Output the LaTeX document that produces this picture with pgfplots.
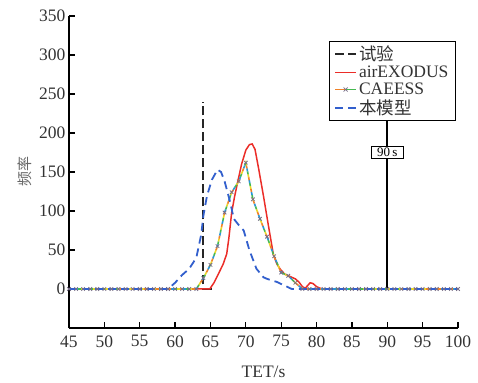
\documentclass[border=0pt]{standalone}
\usepackage{fontspec}
\setmainfont{Liberation Serif}
\newfontfamily\cjk{Noto Sans CJK SC}
\usepackage{pgfplots}
\usepackage{pgfplotstable}
\pgfplotsset{compat=1.18}
\definecolor{cred}{RGB}{235,45,40}
\definecolor{cblue}{RGB}{50,95,205}
\definecolor{corange}{RGB}{240,130,40}
\definecolor{cyellow}{RGB}{235,215,40}
\definecolor{cgreen}{RGB}{70,185,80}
\definecolor{ccyan}{RGB}{40,150,215}
\definecolor{cgray}{RGB}{120,110,135}
\newcommand{\fs}{\fontsize{17.5}{19}\selectfont}

\pgfplotstableread{
x y
45 0
46 0
47 0
48 0
49 0
50 0
51 0
52 0
53 0
54 0
55 0
56 0
57 0
58 0
59 0
60 0
61 0
62 0
63 0
64 14
65 31
66 55
67 98
68 124
69 138
70 162
71 115
72 90
73 67
74 42
75 21
76 17
77 8
78 0
79 0
80 0
81 0
82 0
83 0
84 0
85 0
86 0
87 0
88 0
89 0
90 0
91 0
92 0
93 0
94 0
95 0
96 0
97 0
98 0
99 0
100 0
}\caeess

\pgfplotstableread{
x y
45 0
64.9 0
65.5 8
66 17
66.8 32
67.3 45
67.6 65
68 98
68.4 118
68.8 135
69.4 160
70 178
70.5 185
70.9 186
71.3 179
71.8 155
72.5 119
73.2 81
73.9 44
74.4 32
74.9 25
75.5 19
76 17
77 13
77.5 9
78 3
78.4 1
79.1 8
79.5 7
80 3
80.5 1
81 0
100 0
}\airex

\pgfplotstableread{
x y
45 0
59 0
60 8
61 18
62 26
63 40
63.7 70
64 94
64.5 119
65.2 140
66 153
66.5 150
67 138
67.8 111
68.3 90
69 82
69.7 75
70.5 50
71.5 26
72.5 15
73 13
74.4 9
75.8 3
76.5 0
100 0
}\model

\begin{document}
\begin{tikzpicture}
\useasboundingbox (-69pt,-54pt) rectangle (409pt,328pt);
\begin{axis}[
 at={(0,0)}, anchor=south west, scale only axis, width=389pt, height=312pt,
 xmin=45, xmax=100, ymin=-50, ymax=350,
 xtick={45,50,...,100}, ytick={0,50,...,350},
 axis lines=left, axis line style={-, line width=1.6pt},
 tick align=inside, major tick length=6pt, tick style={line width=1.2pt, black},
 /pgf/number format/assume math mode=true,
 tick label style={font=\fs, text=black!80},
 xticklabel style={yshift=-4pt},
 xlabel={TET/s}, ylabel={\cjk 频率},
 every axis x label/.style={at={(rel axis cs:0.5,0)}, yshift=-44pt, anchor=center, font=\fs, text=black!80},
 every axis y label/.style={at={(rel axis cs:0,0.5)}, xshift=-44.5pt, rotate=90, anchor=center, font=\fontsize{15}{15}\selectfont, text=black!60},
 legend style={at={(rel axis cs:0.995,0.92)}, anchor=north east, font=\fs, text=black!80, draw=black, line width=1.2pt, cells={anchor=west}, row sep=0pt, inner xsep=5pt, inner ysep=2pt},
 legend image code/.code={\draw[mark repeat=2,mark phase=2] plot coordinates {(0cm,0cm)(0.37cm,0cm)(0.74cm,0cm)};},
 clip=false,
]
\addplot[black!85, line width=1.8pt, dash pattern=on 9pt off 4pt] coordinates {(65.2,0)(64,0)(64,240)};
\addplot[cred, line width=1.5pt] table {\airex};
\addplot[forget plot, cyellow, line width=1.6pt, dash pattern=on 3pt off 9pt, dash phase=0pt] table {\caeess};
\addplot[forget plot, cgreen, line width=1.6pt, dash pattern=on 3pt off 9pt, dash phase=3pt] table {\caeess};
\addplot[forget plot, ccyan, line width=1.6pt, dash pattern=on 3pt off 9pt, dash phase=6pt] table {\caeess};
\addplot[corange, line width=1.6pt, dash pattern=on 3pt off 9pt, dash phase=9pt, mark=x, mark size=2.5pt, mark options={solid, cgray, line width=0.8pt},
  legend image code/.code={
    \draw[corange, line width=1.6pt, solid] (0cm,0cm) -- (0.37cm,0cm);
    \draw[cgreen, line width=1.6pt, solid] (0.37cm,0cm) -- (0.74cm,0cm);
    \draw[cgray, line width=0.8pt, solid] (0.37cm,0cm) +(-2pt,-2pt) -- +(2pt,2pt) +(-2pt,2pt) -- +(2pt,-2pt);
  }] table {\caeess};
\addplot[cblue, line width=1.8pt, dash pattern=on 8pt off 5pt] table {\model};
\addplot[forget plot, black, line width=1.8pt] coordinates {(90,0)(90,217)} node[pos=0.806, fill=white, draw=black, line width=1.5pt, inner sep=0pt, minimum width=32pt, minimum height=12pt, font=\fontsize{13}{13}\selectfont, text=black]{90\,s};
\legend{{\cjk 试验}, airEXODUS, CAEESS, {\cjk 本模型}}
\end{axis}
\end{tikzpicture}
\end{document}
